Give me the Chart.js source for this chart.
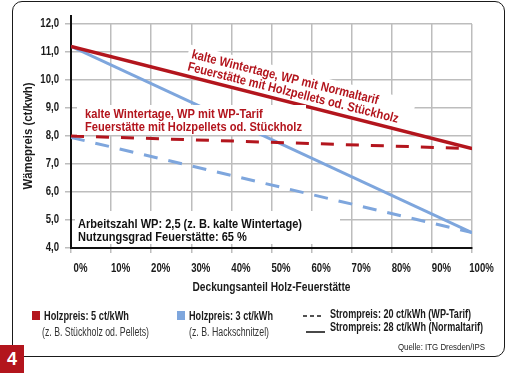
<!DOCTYPE html>
<html>
<head>
<meta charset="utf-8">
<script src="https://cdn.jsdelivr.net/npm/chart.js@4.4.1/dist/chart.umd.min.js"></script>
<style>
html,body{margin:0;padding:0;background:#fff;}
#wrap{position:relative;width:506px;height:373px;overflow:hidden;font-family:'Liberation Sans',Arial,sans-serif;color:#1a1a1a;}
#frame{position:absolute;left:12px;top:1px;width:493px;height:356px;border:1.5px solid #1a1a1a;border-radius:10px;box-sizing:border-box;}
#c{position:absolute;left:0;top:0;}
.t{position:absolute;white-space:nowrap;line-height:1;transform-origin:left center;}
.b{font-weight:bold;font-size:12px;}
.r{font-size:12px;color:#333;}
.sq{position:absolute;width:8px;height:9px;}
#num{position:absolute;left:0;top:345px;width:24px;height:28px;background:#b3151d;color:#fff;font-weight:bold;font-size:18px;text-align:center;line-height:28px;}
</style>
</head>
<body>
<div id="wrap">
  <div id="frame"></div>
  <canvas id="c" width="506" height="373"></canvas>
  <div class="sq" style="left:32px;top:311px;background:#b3151d"></div>
  <div class="t b" data-w="85" style="left:44px;top:310px">Holzpreis: 5 ct/kWh</div>
  <div class="t r" data-w="107" style="left:42px;top:326px">(z. B. Stückholz od. Pellets)</div>
  <div class="sq" style="left:177px;top:311px;background:#7ea6dd"></div>
  <div class="t b" data-w="84" style="left:189px;top:310px">Holzpreis: 3 ct/kWh</div>
  <div class="t r" data-w="80" style="left:189px;top:326px">(z. B. Hackschnitzel)</div>
  <svg style="position:absolute;left:300px;top:310px" width="28" height="26">
    <line x1="3" y1="6" x2="21" y2="6" stroke="#1a1a1a" stroke-width="1.6" stroke-dasharray="4 3"/>
    <line x1="6" y1="22" x2="25" y2="22" stroke="#1a1a1a" stroke-width="1.6"/>
  </svg>
  <div class="t b" data-w="141" style="left:330px;top:308px">Strompreis: 20 ct/kWh (WP-Tarif)</div>
  <div class="t b" data-w="153" style="left:330px;top:321px">Strompreis: 28 ct/kWh (Normaltarif)</div>
  <div class="t" data-w="87" style="left:398px;top:342px;font-size:9.5px;color:#222">Quelle: ITG Dresden/IPS</div>
  <div id="num">4</div>
</div>
<script>
// ---- data ----
const xShare = [0, 100];                       // Deckungsanteil Holz-Feuerstätte (%)
const wood5Normal = [11.2, 7.55];              // Holzpreis 5 ct/kWh, Strompreis 28 ct/kWh
const wood5WP     = [8.0, 7.55];               // Holzpreis 5 ct/kWh, Strompreis 20 ct/kWh
const wood3Normal = [11.2, 4.55];              // Holzpreis 3 ct/kWh, Strompreis 28 ct/kWh
const wood3WP     = [7.95, 4.55];              // Holzpreis 3 ct/kWh, Strompreis 20 ct/kWh
const xTickValues = [0,10,20,30,40,50,60,70,80,90,100];
const xTickLabels = ['0%','10%','20%','30%','40%','50%','60%','70%','80%','90%','100%'];
const yTickValues = [4,5,6,7,8,9,10,11,12];
const yTickLabels = ['4,0','5,0','6,0','7,0','8,0','9,0','10,0','11,0','12,0'];
const xTitle = 'Deckungsanteil Holz-Feuerstätte';
const yTitle = 'Wämepreis (ct/kwh)';
const noteNormal = ['kalte Wintertage, WP mit Normaltarif','Feuerstätte mit Holzpellets od. Stückholz'];
const noteWP = ['kalte Wintertage, WP mit WP-Tarif','Feuerstätte mit Holzpellets od. Stückholz'];
const noteParams = ['Arbeitszahl WP: 2,5 (z. B. kalte Wintertage)','Nutzungsgrad Feuerstätte: 65 %'];

const RED = '#b3151d', BLUE = '#7ea6dd';
const FAM = "'Liberation Sans',Arial,sans-serif";
const pts = arr => arr.map((v,i)=>({x:xShare[i], y:v}));

// condensed look: compress canvas text horizontally
const titleWidths = {}; titleWidths[xTitle] = 158; titleWidths[yTitle] = 107;
function patchCtx(ctx){
  if (ctx.__patched) return;
  const orig = ctx.fillText;
  ctx.fillText = function(t, x, y, mw){
    let sx = this.__sx || 0.8;
    if (titleWidths[t]) sx = titleWidths[t] / this.measureText(t).width;
    this.save();
    this.translate(x, y);
    this.scale(sx, 1);
    if (mw === undefined) orig.call(this, t, 0, 0);
    else orig.call(this, t, 0, 0, mw / sx);
    this.restore();
  };
  ctx.__patched = true;
}
function blockScale(ctx, lines, target){
  return target / Math.max(...lines.map(s=>ctx.measureText(s).width));
}

const annot = {
  id:'annot',
  beforeInit(chart){ patchCtx(chart.ctx); },
  beforeDatasetsDraw(chart){
    const ctx = chart.ctx;
    ctx.save();
    ctx.translate(191, 58);
    ctx.rotate(14*Math.PI/180);
    ctx.font = 'bold 13px ' + FAM;
    const sx = blockScale(ctx, noteNormal, 217);
    ctx.fillStyle = '#fff';
    ctx.fillRect(-4, -13, 217 + 16, 31);
    ctx.restore();
  },
  afterDatasetsDraw(chart){
    const ctx = chart.ctx;
    const xs = chart.scales.x, ys = chart.scales.y;
    ctx.save();
    // axis stub above the plot
    ctx.strokeStyle = '#111'; ctx.lineWidth = 2;
    ctx.beginPath();
    ctx.moveTo(xs.getPixelForValue(0), ys.getPixelForValue(12) - 9);
    ctx.lineTo(xs.getPixelForValue(0), ys.getPixelForValue(12));
    ctx.stroke();
    // white boxes
    ctx.fillStyle = '#fff';
    ctx.fillRect(77, 105, 229, 30);
    ctx.fillRect(75, 211, 265, 33);
    ctx.font = 'bold 13px ' + FAM;
    ctx.textBaseline = 'alphabetic';
    ctx.textAlign = 'left';
    ctx.fillStyle = RED;
    ctx.__sx = blockScale(ctx, noteWP, 217);
    ctx.fillText(noteWP[0], 85, 118);
    ctx.fillText(noteWP[1], 85, 131);
    ctx.fillStyle = '#111';
    ctx.__sx = blockScale(ctx, noteParams, 224);
    ctx.fillText(noteParams[0], 78, 227.5);
    ctx.fillText(noteParams[1], 78, 241);
    // rotated note
    ctx.translate(191, 58);
    ctx.rotate(14*Math.PI/180);
    ctx.fillStyle = RED;
    ctx.__sx = blockScale(ctx, noteNormal, 217);
    ctx.fillText(noteNormal[0], 0, 0);
    ctx.fillText(noteNormal[1], -1, 13);
    ctx.__sx = 0;
    ctx.restore();
  }
};

const ds = (data, color, dash, w) => ({data: pts(data), borderColor: color, backgroundColor: color,
  borderWidth: w, borderDash: dash, pointRadius: 0, tension: 0, fill: false, borderCapStyle:'butt'});

new Chart(document.getElementById('c'), {
  type: 'line',
  data: { datasets: [
    ds(wood5Normal, RED, [], 3.5),
    ds(wood5WP, RED, [13,12], 3),
    ds(wood3Normal, BLUE, [], 3),
    ds(wood3WP, BLUE, [14,11], 3)
  ]},
  options: {
    responsive:false, animation:false, devicePixelRatio:1,
    layout:{padding:{top:24,right:34,bottom:0,left:0}},
    plugins:{legend:{display:false}, tooltip:{enabled:false}},
    scales:{
      x:{type:'linear', min:0, max:100,
        afterBuildTicks: s => { s.ticks = xTickValues.map(v=>({value:v})); },
        afterFit: s => { s.height = 125; },
        ticks:{callback:(v,i)=>xTickLabels[i], color:'#1a1a1a', font:{family:FAM,size:12,weight:'bold'},
          padding:8, labelOffset:9.5, maxRotation:0, autoSkip:false},
        grid:{color:'#bdbdbd', lineWidth:1.5, tickLength:5},
        border:{color:'#111', width:2},
        title:{display:true, text:xTitle, color:'#1a1a1a',
          font:{family:FAM,size:13,weight:'bold'}, padding:{top:0,bottom:78}}
      },
      y:{min:4, max:12,
        afterBuildTicks: s => { s.ticks = yTickValues.map(v=>({value:v})); },
        afterFit: s => { s.width = 71; },
        ticks:{callback:(v,i)=>yTickLabels[i], color:'#1a1a1a', font:{family:FAM,size:12,weight:'bold'}, padding:6},
        grid:{color:'#bdbdbd', lineWidth:1.5, tickLength:6},
        border:{color:'#111', width:2},
        title:{display:true, text:yTitle, color:'#1a1a1a',
          font:{family:FAM,size:12,weight:'bold'}, padding:{top:21,bottom:0}}
      }
    }
  },
  plugins:[annot]
});

// fit HTML legend texts to the reference widths (condensed face)
document.querySelectorAll('.t[data-w]').forEach(el=>{
  const w = el.getBoundingClientRect().width;
  el.style.transform = 'scaleX(' + (parseFloat(el.dataset.w)/w) + ')';
});
</script>
</body>
</html>
